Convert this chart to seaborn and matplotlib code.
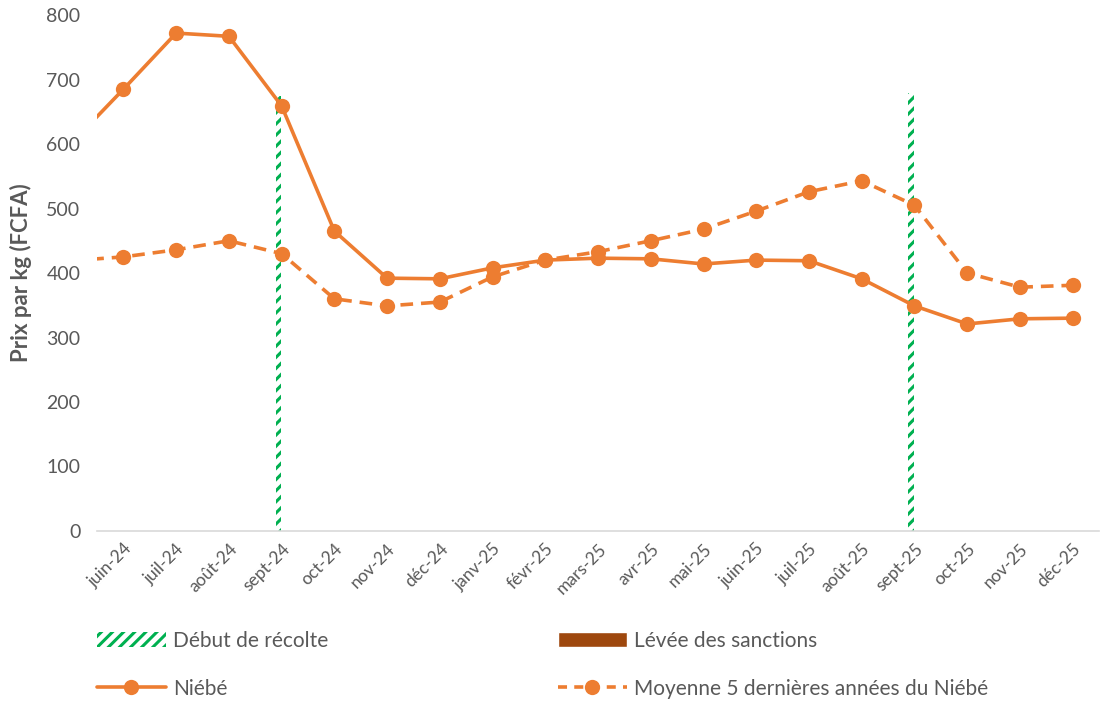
import numpy as np
import pandas as pd
import matplotlib
matplotlib.use("Agg")
import matplotlib.pyplot as plt
from matplotlib.patches import Patch
from matplotlib.lines import Line2D
import seaborn as sns

# Data
months = ["juin-24", "juil-24", "août-24", "sept-24", "oct-24", "nov-24", "déc-24",
          "janv-25", "févr-25", "mars-25", "avr-25", "mai-25", "juin-25", "juil-25",
          "août-25", "sept-25", "oct-25", "nov-25", "déc-25"]
# first value (mai-24) lies just off the left edge of the axis
niebe = [600, 685, 772, 767, 659, 465, 392, 391, 408, 420, 423, 422, 414, 420,
         419, 391, 349, 321, 329, 330]
moyenne = [419, 425, 436, 450, 430, 360, 349, 355, 394, 420, 433, 450, 468, 496,
           526, 543, 505, 400, 378, 381]
recolte = [0, 0, 0, 675, 0, 0, 0, 0, 0, 0, 0, 0, 0, 0, 0, 679, 0, 0, 0]
sanctions = [0] * 19

orange = "#ED7D31"
green = "#00B050"
brown = "#9E480E"
grey = "#595959"

sns.set_style("white")
plt.rcParams['font.family'] = ['Lato', 'DejaVu Sans']
plt.rcParams['hatch.linewidth'] = 2.2

df = pd.DataFrame({"pos": np.arange(-1, len(months)), "niebe": niebe, "moyenne": moyenne})

fig = plt.figure(figsize=(11.03, 7.02), dpi=100)
ax = fig.add_axes([0.088, 0.2436, 0.9084, 0.735])

# harvest markers: clustered bars (second series is empty)
pos = np.arange(len(months))
ax.bar(pos - 0.06, recolte, width=0.11, color="white", edgecolor=green,
       hatch="///", linewidth=0, zorder=1)
ax.bar(pos + 0.06, sanctions, width=0.11, color=brown, zorder=1)

sns.lineplot(data=df, x="pos", y="niebe", ax=ax, color=orange, linewidth=2.6,
             marker="o", markersize=11, markeredgewidth=0, zorder=3)
sns.lineplot(data=df, x="pos", y="moyenne", ax=ax, color=orange, linewidth=2.6,
             linestyle=(0, (3.5, 2.2)), marker="o", markersize=11,
             markeredgewidth=0, zorder=3)

ax.set_xlim(-0.5, len(months) - 0.5)
ax.set_ylim(0, 800)
ax.set_yticks(range(0, 801, 100))
ax.set_xticks(pos)
ax.set_xticklabels(months, rotation=45, ha="right", rotation_mode="anchor",
                   fontsize=12.5, color=grey)
ax.set_xticks(np.arange(-0.5, len(months)), minor=True)
ax.tick_params(axis="x", which="major", length=0, pad=7)
ax.tick_params(axis="x", which="minor", length=6, color="#D9D9D9", width=1.2)
ax.tick_params(axis="y", length=0, labelsize=14, labelcolor=grey, pad=12)

for s in ["top", "right", "left"]:
    ax.spines[s].set_visible(False)
ax.spines["bottom"].set_color("#D9D9D9")
ax.spines["bottom"].set_linewidth(1.2)

ax.set_xlabel("")
ax.set_ylabel("Prix par kg (FCFA)", fontsize=16, fontweight="bold", color=grey,
              labelpad=10)

line_kw = dict(color=orange, linewidth=2.6, marker="o", markersize=11,
               markeredgewidth=0)
leg_kw = dict(loc="center left", frameon=False, fontsize=15, labelcolor=grey,
              handlelength=3.3, handleheight=0.8, labelspacing=1.35,
              handletextpad=0.35, borderpad=0, borderaxespad=0)

leg1 = fig.legend([Patch(facecolor="white", edgecolor=green, hatch="///", linewidth=0),
                   Line2D([], [], **line_kw)],
                  ["Début de récolte", "Niébé"],
                  bbox_to_anchor=(0.088, 0.053), **leg_kw)
leg2 = fig.legend([Patch(facecolor=brown),
                   Line2D([], [], linestyle=(0, (2.5, 2.0)), **line_kw)],
                  ["Lévée des sanctions", "Moyenne 5 dernières années du Niébé"],
                  bbox_to_anchor=(0.506, 0.053), **leg_kw)

fig.savefig("out.png", dpi=100)
